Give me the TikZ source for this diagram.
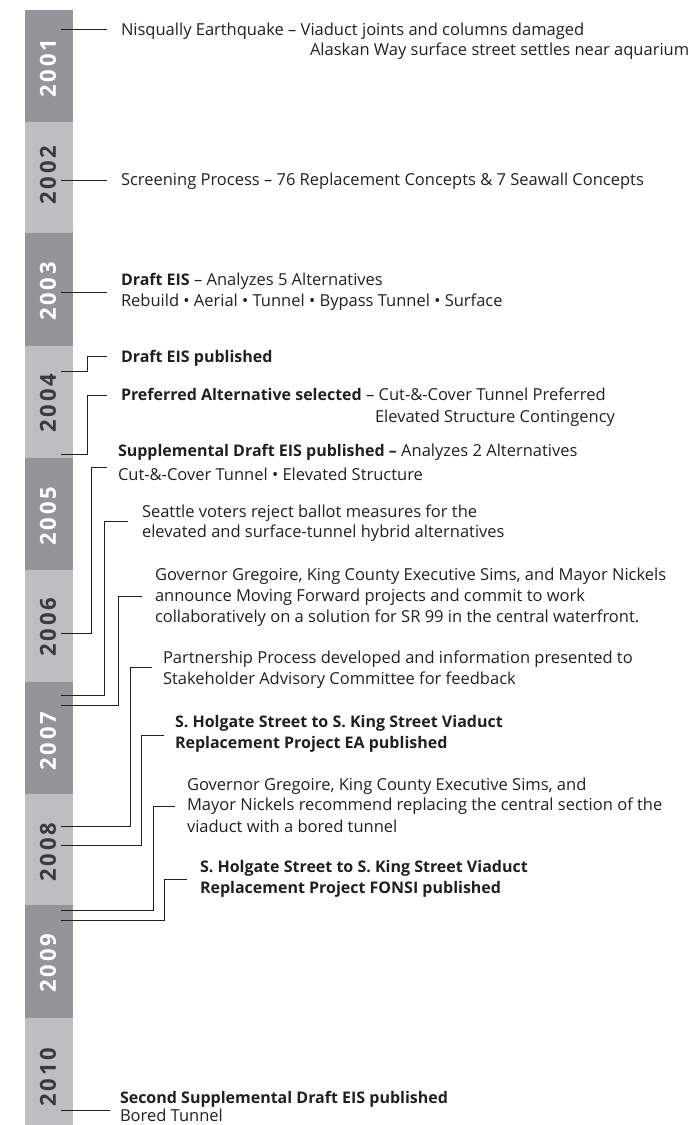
\documentclass[tikz,border=0pt]{standalone}
\usepackage{fontspec}
\setmainfont{Open Sans}
\newfontfamily\yearfont[LetterSpace=13]{Open Sans}
\definecolor{ink}{HTML}{231F20}
\definecolor{bardark}{HTML}{939598}
\definecolor{barlight}{HTML}{BCBEC0}
\definecolor{yearink}{HTML}{3A3A3C}
\newcommand{\bseg}[1]{{\fontsize{16}{20}\selectfont\bfseries #1}}
\begin{document}
\begin{tikzpicture}[x=1pt,y=-1pt,
  txt/.style={anchor=base west, inner sep=0pt, outer sep=0pt, text=ink,
    font=\fontsize{16.5}{20}\selectfont},
  btxt/.style={txt, font=\fontsize{16}{20}\selectfont\bfseries},
  conn/.style={draw=ink, line width=1pt},
  yearlbl/.style={rotate=90, inner sep=0pt, font=\yearfont\bfseries\fontsize{22}{22}\selectfont},
  ondark/.style={yearlbl, text=white},
  onlight/.style={yearlbl, text=yearink}]
\useasboundingbox (0,0) rectangle (697,1125);
% bar segments
\fill[bardark]  (25,10)   rectangle (73,122);
\fill[barlight] (25,122)  rectangle (73,233);
\fill[bardark]  (25,233)  rectangle (73,346);
\fill[barlight] (25,346)  rectangle (73,458);
\fill[bardark]  (25,458)  rectangle (73,570);
\fill[barlight] (25,570)  rectangle (73,682);
\fill[bardark]  (25,682)  rectangle (73,794);
\fill[barlight] (25,794)  rectangle (73,905);
\fill[bardark]  (25,905)  rectangle (73,1018);
\fill[barlight] (25,1018) rectangle (73,1125);
% year labels
\node[ondark]  (y2001) at (48,68)    {2001};
\node[onlight] (y2002) at (48,175)   {2002};
\node[ondark]  (y2003) at (48,291.5) {2003};
\node[onlight] (y2004) at (48,403)   {2004};
\node[ondark]  (y2005) at (48,516)   {2005};
\node[onlight] (y2006) at (48,627)   {2006};
\node[ondark]  (y2007) at (48,741)   {2007};
\node[onlight] (y2008) at (48,852)   {2008};
\node[ondark]  (y2009) at (48,963)   {2009};
\node[onlight] (y2010) at (48,1077)  {2010};
% texts
\node[txt]  (e1a) at (121,35)    {Nisqually Earthquake – Viaduct joints and columns damaged};
\node[txt]  (e1b) at (310,55.5)  {Alaskan Way surface street settles near aquarium};
\node[txt]  (e2a) at (121,185)   {Screening Process – 76 Replacement Concepts \& 7 Seawall Concepts};
\node[txt]  (e3a) at (121,285)   {\bseg{Draft EIS} – Analyzes 5 Alternatives};
\node[txt]  (e3b) at (121,306)   {Rebuild • Aerial • Tunnel • Bypass Tunnel • Surface};
\node[btxt] (e4a) at (121,362)   {Draft EIS published};
\node[txt]  (e5a) at (121,400.5) {\bseg{Preferred Alternative selected} – Cut-\&-Cover Tunnel Preferred};
\node[txt]  (e5b) at (375,422.7) {Elevated Structure Contingency};
\node[txt]  (e6a) at (118,456.7) {\bseg{Supplemental Draft EIS published –} Analyzes 2 Alternatives};
\node[txt]  (e6b) at (118,480)   {Cut-\&-Cover Tunnel • Elevated Structure};
\node[txt]  (e7a) at (142,517.3) {Seattle voters reject ballot measures for the};
\node[txt]  (e7b) at (142,537.7) {elevated and surface-tunnel hybrid alternatives};
\node[txt]  (e8a) at (155,580)   {Governor Gregoire, King County Executive Sims, and Mayor Nickels};
\node[txt]  (e8b) at (155,601)   {announce Moving Forward projects and commit to work};
\node[txt]  (e8c) at (155,622.3) {collaboratively on a solution for SR 99 in the central waterfront.};
\node[txt]  (e9a) at (163,663.3) {Partnership Process developed and information presented to};
\node[txt]  (e9b) at (163,684)   {Stakeholder Advisory Committee for feedback};
\node[btxt] (e10a) at (175,727.3) {S. Holgate Street to S. King Street Viaduct};
\node[btxt] (e10b) at (175,748.3) {Replacement Project EA published};
\node[txt]  (e11a) at (187,790)   {Governor Gregoire, King County Executive Sims, and};
\node[txt]  (e11b) at (187,810.7) {Mayor Nickels recommend replacing the central section of the};
\node[txt]  (e11c) at (187,832.3) {viaduct with a bored tunnel};
\node[btxt] (e12a) at (200,872.7) {S. Holgate Street to S. King Street Viaduct};
\node[btxt] (e12b) at (200,893.3) {Replacement Project FONSI published};
\node[btxt] (e13a) at (120,1103)  {Second Supplemental Draft EIS published};
\node[txt]  (e13b) at (120,1121.5) {Bored Tunnel};
% connector end points
\coordinate (s1) at (61,29);      \coordinate (t1) at (107,29);
\coordinate (s2) at (61,180);     \coordinate (t2) at (107,180);
\coordinate (s3) at (61,292.3);   \coordinate (t3) at (107,292.3);
\coordinate (s4) at (61,371);     \coordinate (t4) at (107,356);
\coordinate (s5) at (61,454);     \coordinate (t5) at (107,395.7);
\coordinate (s6) at (61,633.3);   \coordinate (t6) at (107,467.3);
\coordinate (s7) at (61,695);     \coordinate (t7) at (128.3,521.7);
\coordinate (s8) at (61,705);     \coordinate (t8) at (141.7,596);
\coordinate (s9) at (61,826);     \coordinate (t9) at (151.7,667.3);
\coordinate (s10) at (61,845);    \coordinate (t10) at (164.3,735);
\coordinate (s11) at (61,910.7);  \coordinate (t11) at (175,806.7);
\coordinate (s12) at (61,920);    \coordinate (t12) at (186.7,879.3);
\coordinate (s13) at (61,1110);   \coordinate (t13) at (110,1110);
% connectors
\draw[conn] (s1) -- (t1);
\draw[conn] (s2) -- (t2);
\draw[conn] (s3) -- (t3);
\draw[conn] (s4) -| (87.7,356) -- (t4);
\draw[conn] (s5) -| (87.7,395.7) -- (t5);
\draw[conn] (s6) -| (91,467.3) -- (t6);
\draw[conn] (s7) -| (104.3,521.7) -- (t7);
\draw[conn] (s8) -| (118.3,596) -- (t8);
\draw[conn] (s9) -| (130,667.3) -- (t9);
\draw[conn] (s10) -| (141,735) -- (t10);
\draw[conn] (s11) -| (153.3,806.7) -- (t11);
\draw[conn] (s12) -| (164.3,879.3) -- (t12);
\draw[conn] (s13) -- (t13);
\end{tikzpicture}
\end{document}
